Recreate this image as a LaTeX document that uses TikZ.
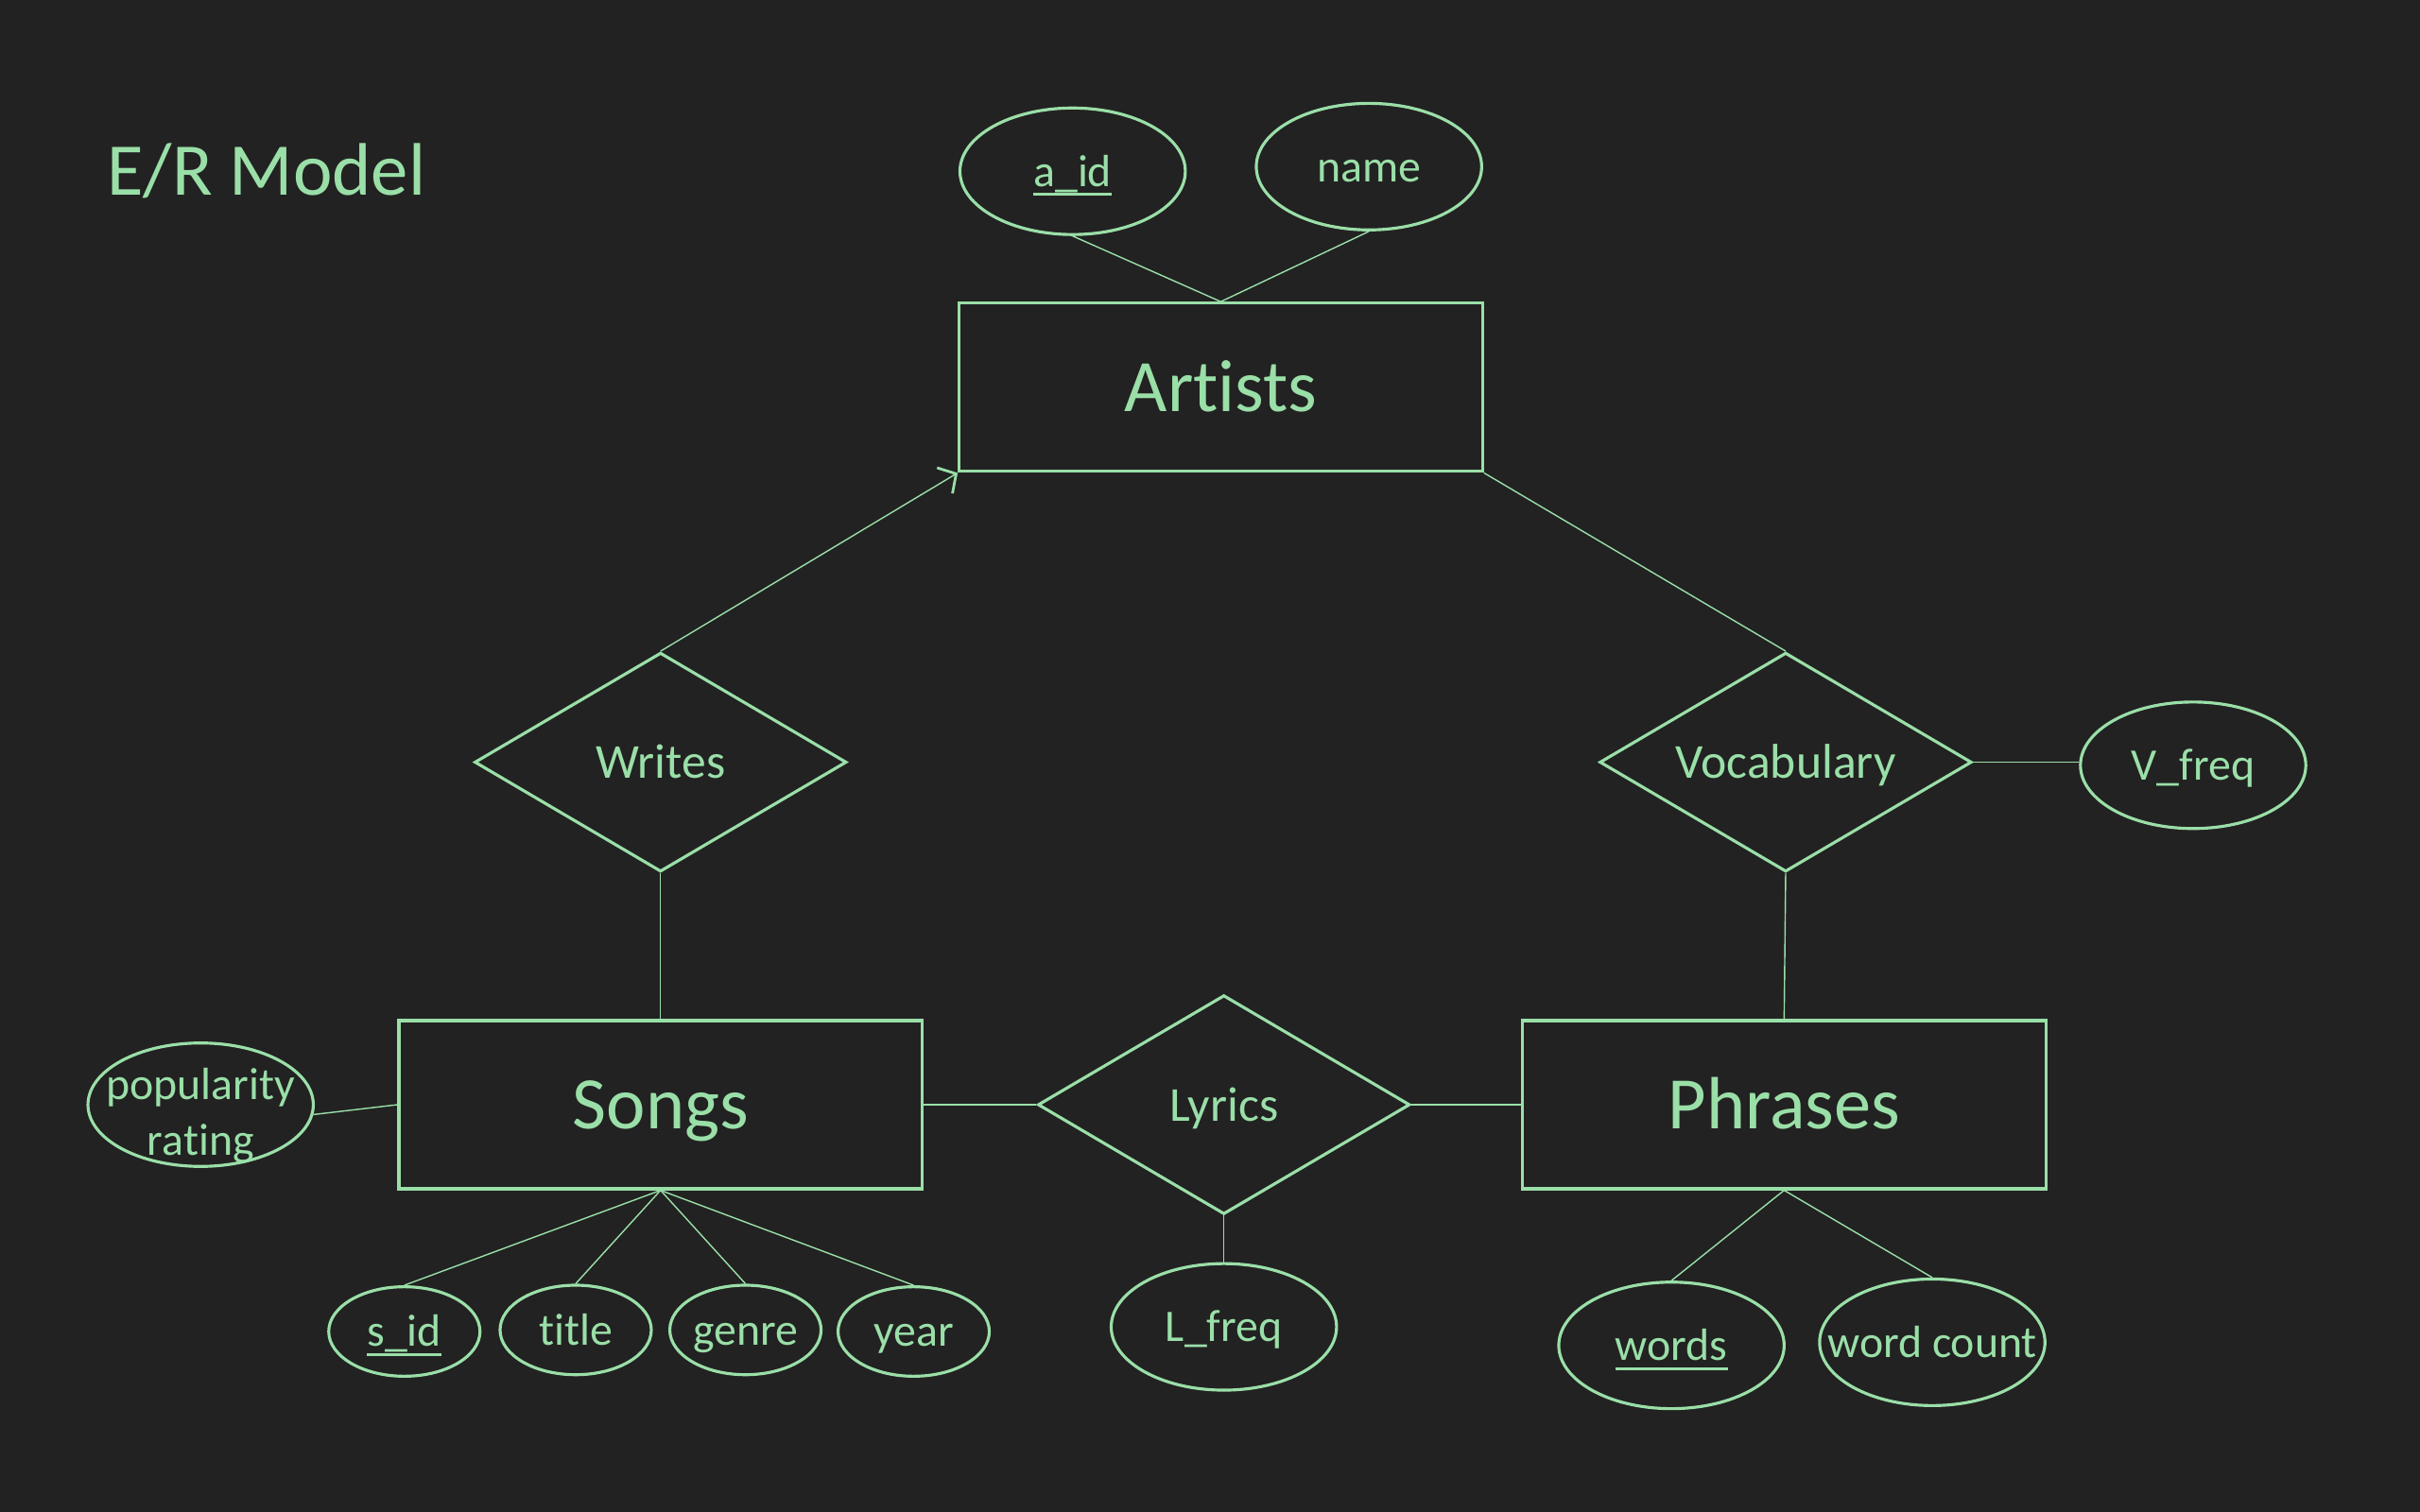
\documentclass[tikz,border=0pt]{standalone}
\usepackage{fontspec}
\setmainfont{Carlito}[Ligatures=NoCommon,RawFeature={-liga;-clig}]
\usetikzlibrary{shapes.geometric,arrows.meta}
\definecolor{erGreen}{HTML}{9ADFA8}
\definecolor{erBack}{HTML}{222222}
\newcommand{\keyattr}[1]{\setbox0=\hbox{#1}\makebox[0pt][l]{\rule[-2.9pt]{\wd0}{0.85pt}}\box0}
\tikzset{
  entity/.style={draw=erGreen,line width=0.9pt,text=erGreen,minimum width=5.535cm,minimum height=1.78cm,inner sep=0pt,text height=14.7pt,text depth=0pt,font=\fontsize{22.3}{26}\selectfont},
  relation/.style={draw=erGreen,line width=0.9pt,text=erGreen,diamond,aspect=1.7,minimum width=3.935cm,minimum height=2.318cm,inner sep=0pt,text height=9.7pt,text depth=0pt,font=\fontsize{14.7}{17}\selectfont},
  attr/.style={draw=erGreen,line width=0.9pt,text=erGreen,ellipse,minimum width=2.384cm,minimum height=1.339cm,inner sep=0pt,text height=9pt,text depth=0pt,font=\fontsize{13.6}{16.2}\selectfont},
  smallattr/.style={attr,minimum width=1.6cm,minimum height=0.947cm},
  link/.style={draw=erGreen,line width=0.4pt}
}
\begin{document}
\begin{tikzpicture}[x=0.016327cm,y=-0.016327cm]
\fill[erBack] (0,0) rectangle (1568,980);
\node[anchor=west,inner sep=0pt,text=erGreen,font=\fontsize{22.4}{26}\selectfont] (title) at (69,111) {E/R Model};
% entities
\node[entity] (artists) at (791,251) {Artists};
\node[entity] (songs) at (428,716) {Songs};
\node[entity] (phrases) at (1156,716) {Phrases};
% relationships
\node[relation] (writes) at (428,494) {Writes};
\node[relation] (vocab) at (1157,494) {Vocabulary};
\node[relation] (lyrics) at (793,716) {Lyrics};
% attributes
\node[attr] (aid) at (695,111) {\keyattr{a\_id}};
\node[attr] (name) at (887,108) {name};
\node[attr] (vfreq) at (1421,496) {V\_freq};
\node[attr] (lfreq) at (793,860) {L\_freq};
\node[attr,minimum height=1.306cm] (pop) at (130,716) {};
\node[text=erGreen,align=center,inner sep=0pt,font=\fontsize{13.6}{16.8}\selectfont] (popText) at (130,723) {popularity\\rating};
\node[attr] (words) at (1083,872) {\keyattr{words}};
\node[attr] (wcount) at (1252,870) {\makebox[0pt]{word count}};
\node[smallattr] (sid) at (262,863) {\keyattr{s\_id}};
\node[smallattr] (title) at (373,862) {title};
\node[smallattr] (genre) at (483,862) {genre};
\node[smallattr] (year) at (592,863) {year};
% connectors
\draw[link] (aid.south) -- (artists.north);
\draw[link] (name.south) -- (artists.north);
\draw[link,-{Straight Barb[length=4pt,width=9pt,line width=0.8pt]}] (writes.north) -- (artists.south west);
\draw[link] (artists.south east) -- (vocab.north);
\draw[link] (vocab.east) -- (vocab.east -| vfreq.west);
\draw[link] (writes.south) -- (songs.north);
\draw[link] (vocab.south) -- (phrases.north);
\draw[link] (songs.east) -- (lyrics.west);
\draw[link] (lyrics.east) -- (phrases.west);
\draw[link] (lyrics.south) -- (lfreq.north);
\draw[link] (pop.-5) -- (songs.west);
\foreach \a in {sid,title,genre,year}
  \draw[link] (songs.south) -- (\a.north);
\draw[link] (phrases.south) -- (words.north);
\draw[link] (phrases.south) -- (wcount.north);
\end{tikzpicture}
\end{document}
